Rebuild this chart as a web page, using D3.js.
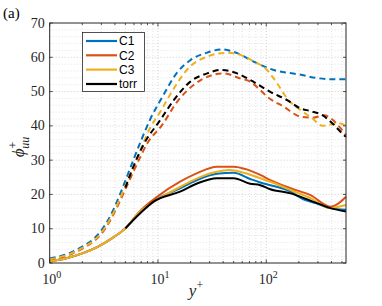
<!DOCTYPE html>
<html>
<head>
<meta charset="utf-8">
<script src="https://cdn.jsdelivr.net/npm/d3@7"></script>
<style>
  body { margin: 0; background: #fff; }
  svg { display: block; }
</style>
</head>
<body>
<div id="chart"></div>
<script>
// y+ positions and phi_uu+ values
const names = ["C1", "C2", "C3", "torr"];
const colors = ["#0072BD", "#D95319", "#EDB120", "#000000"];

const c1DashX = [1, 1.5, 2, 2.5, 3, 3.5, 4, 5, 6, 7, 8.5, 11, 15, 20, 28, 39, 54, 77, 117, 200, 300, 420, 545];
const c1DashY = [1.3, 2.8, 4.8, 6.8, 9.5, 12.8, 16.5, 24, 30.5, 35.8, 42, 48.5, 55.5, 59.2, 61.3, 62.3, 61.2, 58.7, 56.3, 55, 53.9, 53.6, 53.6];

const c2DashX = [1, 1.5, 2, 2.5, 3, 3.5, 4, 5, 6, 7, 8, 10.9, 15, 21.3, 31.6, 40.5, 57.6, 71, 85, 102, 145, 207, 270, 340, 420, 480, 545];
const c2DashY = [1.0, 2.3, 4.2, 6.1, 8.5, 11.6, 15, 21.5, 27, 31.5, 35, 40.2, 47, 51.9, 54.8, 55.3, 53.8, 52.9, 50.9, 48.5, 45.6, 42.7, 42.4, 43.1, 41.5, 39.5, 37.3];

const c3DashX = [1, 1.5, 2, 2.5, 3, 3.5, 4, 5, 6, 7, 8.5, 10.5, 14, 19.2, 28.5, 43, 60, 82, 95, 126, 156, 207, 266, 330, 409, 485, 545];
const c3DashY = [1.1, 2.5, 4.4, 6.3, 8.8, 12, 15.5, 22.5, 28.5, 33.5, 39.5, 44.1, 50.9, 56.9, 60.2, 61.3, 60.5, 58.3, 57.2, 52.4, 48, 44.6, 42.2, 40, 40.5, 40.7, 39.8];

const torrDashX = [5, 6, 7.35, 10.5, 14, 19.9, 28.5, 37.7, 53.8, 71, 109, 156, 207, 256, 330, 409, 522, 545];
const torrDashY = [22, 28.5, 34.5, 41.7, 47.5, 52.9, 55.3, 56.3, 55.3, 53.4, 49.9, 47.5, 45.1, 44.3, 43.1, 40.7, 37.3, 36.8];

const c1SolidX = [1, 1.4, 2, 2.8, 3.75, 5, 6.85, 9.8, 16, 23, 35, 50, 71, 88, 109, 168, 220, 290, 391, 545];
const c1SolidY = [0.5, 1.3, 2.8, 4.8, 7.2, 10.1, 15, 18.6, 21.8, 24.2, 26, 26.3, 24.5, 23.5, 22.7, 20.8, 18.6, 17.4, 16, 15.5];

const c2SolidX = [1, 1.4, 2, 2.8, 3.75, 5, 6.85, 9.8, 16, 23, 35, 50, 66, 88, 109, 168, 256, 391, 465, 545];
const c2SolidY = [0.5, 1.3, 2.8, 4.8, 7.2, 10.1, 15.2, 19.3, 23.7, 26.2, 28.1, 28.1, 27.3, 25.7, 24.2, 21.8, 19.8, 16.4, 17.4, 19.3];

const c3SolidX = [1, 1.4, 2, 2.8, 3.75, 5, 6.85, 9.8, 16, 23, 35, 45, 66, 88, 109, 168, 256, 391, 465, 545];
const c3SolidY = [0.5, 1.3, 2.8, 4.8, 7.2, 10.1, 15, 18.4, 22.2, 24.7, 26.6, 27.1, 26.1, 24.7, 23.7, 21.3, 18.9, 16, 16.4, 16.9];

const torrSolidX = [5, 6.85, 9.1, 16, 23, 35, 50, 71, 88, 109, 168, 256, 391, 545];
const torrSolidY = [10.1, 14.5, 17.9, 20.8, 23.2, 24.7, 24.7, 23.1, 22.7, 21.5, 20.3, 18.2, 16, 15];

const yTicks = [0, 10, 20, 30, 40, 50, 60, 70];
const xTickExp = [0, 1, 2];

const dashed = [[c1DashX, c1DashY], [c2DashX, c2DashY], [c3DashX, c3DashY], [torrDashX, torrDashY]];
const solid = [[c1SolidX, c1SolidY], [c2SolidX, c2SolidY], [c3SolidX, c3SolidY], [torrSolidX, torrSolidY]];

const width = 382, height = 306;
const margin = {top: 23, right: 36, bottom: 43, left: 49.7};
const SERIF = '"Liberation Serif", "Times New Roman", serif';
const SANS = '"Liberation Sans", Arial, sans-serif';

const svg = d3.select("#chart").append("svg")
    .attr("width", width)
    .attr("height", height)
    .attr("viewBox", [0, 0, width, height]);

const x = d3.scaleLog().domain([1, 545]).range([margin.left, width - margin.right]);
const y = d3.scaleLinear().domain([0, 70]).range([height - margin.bottom, margin.top]);

const x0 = x.range()[0], x1 = x.range()[1];
const y0 = y.range()[0], y1 = y.range()[1];

// grid
const minorX = [];
for (let e = 0; e < 3; e++) for (let m = 2; m <= 9; m++) { const v = m * Math.pow(10, e); if (v < 545) minorX.push(v); }
const minorY = d3.range(2, 70, 2).filter(v => v % 10 !== 0);

const grid = svg.append("g").attr("fill", "none").attr("stroke-dasharray", "1,2");
grid.selectAll(".gx").data(minorX).join("line")
    .attr("x1", d => x(d)).attr("x2", d => x(d)).attr("y1", y0).attr("y2", y1)
    .attr("stroke", "#dcdcdc").attr("stroke-width", 0.8);
grid.selectAll(".gy").data(minorY).join("line")
    .attr("x1", x0).attr("x2", x1).attr("y1", d => y(d)).attr("y2", d => y(d))
    .attr("stroke", "#dcdcdc").attr("stroke-width", 0.8);
grid.selectAll(".Gx").data(xTickExp.slice(1).map(e => Math.pow(10, e))).join("line")
    .attr("x1", d => x(d)).attr("x2", d => x(d)).attr("y1", y0).attr("y2", y1)
    .attr("stroke", "#c4c4c4").attr("stroke-width", 0.8);
grid.selectAll(".Gy").data(yTicks.slice(1, -1)).join("line")
    .attr("x1", x0).attr("x2", x1).attr("y1", d => y(d)).attr("y2", d => y(d))
    .attr("stroke", "#c4c4c4").attr("stroke-width", 0.8);

// curves
const line = d3.line()
    .x(d => x(d[0]))
    .y(d => y(d[1]))
    .curve(d3.curveMonotoneX);

const plot = svg.append("g");
dashed.forEach(([xs, ys], i) => {
  plot.append("path")
      .attr("d", line(xs.map((v, j) => [v, ys[j]])))
      .attr("fill", "none")
      .attr("stroke", colors[i])
      .attr("stroke-width", 2)
      .attr("stroke-dasharray", "6,4");
});
solid.forEach(([xs, ys], i) => {
  plot.append("path")
      .attr("d", line(xs.map((v, j) => [v, ys[j]])))
      .attr("fill", "none")
      .attr("stroke", colors[i])
      .attr("stroke-width", 2);
});

// axes box and ticks (inward, on all sides)
const axisColor = "#262626";
svg.append("rect")
    .attr("x", x0).attr("y", y1).attr("width", x1 - x0).attr("height", y0 - y1)
    .attr("fill", "none").attr("stroke", axisColor).attr("stroke-width", 1);

const ticks = svg.append("g").attr("stroke", axisColor).attr("stroke-width", 0.8);
xTickExp.forEach(e => {
  const px = x(Math.pow(10, e));
  ticks.append("line").attr("x1", px).attr("x2", px).attr("y1", y0).attr("y2", y0 - 3.5);
  ticks.append("line").attr("x1", px).attr("x2", px).attr("y1", y1).attr("y2", y1 + 3.5);
});
minorX.forEach(v => {
  const px = x(v);
  ticks.append("line").attr("x1", px).attr("x2", px).attr("y1", y0).attr("y2", y0 - 2);
  ticks.append("line").attr("x1", px).attr("x2", px).attr("y1", y1).attr("y2", y1 + 2);
});
yTicks.forEach(v => {
  const py = y(v);
  ticks.append("line").attr("x1", x0).attr("x2", x0 + 3).attr("y1", py).attr("y2", py);
  ticks.append("line").attr("x1", x1).attr("x2", x1 - 3).attr("y1", py).attr("y2", py);
});

// tick labels
svg.append("g").selectAll("text").data(yTicks).join("text")
    .style("font-family", SERIF)
    .attr("x", x0 - 5).attr("y", d => y(d) + 4.5)
    .attr("text-anchor", "end")
    .attr("font-size", 14).attr("fill", axisColor)
    .text(d => d);

const xl = svg.append("g").selectAll("text").data(xTickExp).join("text")
    .style("font-family", SERIF)
    .attr("x", d => x(Math.pow(10, d)) + 2)
    .attr("y", 284)
    .attr("text-anchor", "middle")
    .attr("font-size", 14).attr("fill", axisColor);
xl.append("tspan").text("10");
xl.append("tspan").attr("font-size", 10).attr("dy", -6).text(d => d);

// axis labels
svg.append("text")
    .style("font-family", SERIF)
    .attr("x", 196).attr("y", 296)
    .attr("text-anchor", "middle")
    .attr("font-size", 17).attr("fill", axisColor)
    .call(t => {
      t.append("tspan").attr("font-style", "italic").text("y");
      t.append("tspan").attr("font-size", 12).attr("dy", -7).text("+");
    });

const yl = svg.append("text")
    .style("font-family", SERIF)
    .attr("transform", "translate(24,147) rotate(-90)")
    .attr("text-anchor", "middle")
    .attr("font-size", 17).attr("fill", axisColor);
yl.append("tspan").attr("font-style", "italic").text("ϕ");
yl.append("tspan").attr("font-size", 12).attr("dy", -7).text("+");
yl.append("tspan").attr("font-size", 12).attr("font-style", "italic").attr("dy", 12).attr("dx", -7).text("uu");

svg.append("text")
    .style("font-family", SERIF)
    .attr("x", 3).attr("y", 18)
    .attr("font-size", 15).attr("fill", "#000")
    .text("(a)");

// legend
const lg = svg.append("g");
lg.append("rect")
    .attr("x", 82.5).attr("y", 32.5).attr("width", 62).attr("height", 59)
    .attr("fill", "#fff").attr("stroke", axisColor).attr("stroke-width", 0.8);
const rowY = [41, 55.3, 69.6, 84];
names.forEach((n, i) => {
  lg.append("line")
      .attr("x1", 86).attr("x2", 117).attr("y1", rowY[i]).attr("y2", rowY[i])
      .attr("stroke", colors[i]).attr("stroke-width", 2.2);
  lg.append("text")
      .style("font-family", SANS)
      .attr("x", 119).attr("y", rowY[i] + 4.3)
      .attr("font-size", 12).attr("fill", "#000")
      .text(n);
});
</script>
</body>
</html>
